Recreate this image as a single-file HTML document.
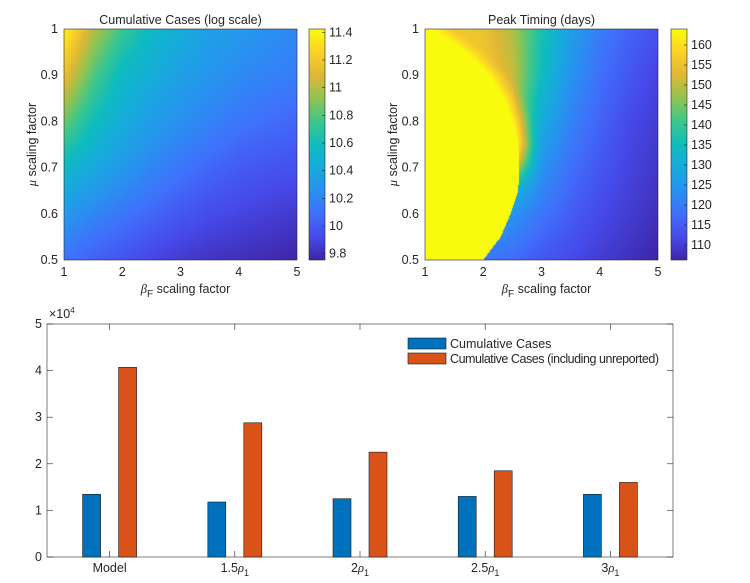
<!DOCTYPE html>
<html><head><meta charset="utf-8"><style>
body{margin:0;background:#fff;width:750px;height:583px;overflow:hidden;position:relative;font-family:"Liberation Sans",sans-serif}
canvas{position:absolute}
svg{position:absolute;left:0;top:0}
text{font-family:"Liberation Sans",sans-serif;fill:#262626;font-size:12.5px}
</style></head><body>
<canvas id="hm1" width="233" height="231" style="left:64px;top:29px"></canvas>
<canvas id="cb1" width="16" height="231" style="left:309px;top:29px"></canvas>
<canvas id="hm2" width="233" height="231" style="left:425px;top:29px"></canvas>
<canvas id="cb2" width="16" height="231" style="left:671px;top:29px"></canvas>
<svg id="svg" width="750" height="583"></svg>
<script>
// ---- heatmap data ----
const betaGrid=[1,1.5,2,2.5,3,3.5,4,4.5,5];
const muGrid=[1.0,0.9,0.8,0.7,0.6,0.5];
const cumRows=[
[11.4,11.0,10.75,10.55,10.45,10.35,10.3,10.25,10.2],
[11.15,10.8,10.55,10.45,10.35,10.28,10.22,10.18,10.15],
[10.85,10.6,10.45,10.33,10.25,10.18,10.12,10.08,10.05],
[10.55,10.42,10.3,10.2,10.12,10.05,10.0,9.97,9.95],
[10.3,10.2,10.12,10.05,9.98,9.93,9.9,9.87,9.85],
[10.1,10.02,9.96,9.9,9.85,9.82,9.8,9.78,9.75]];
const peakRows=[
[158,156,155,149,137,127,120,116,113],
[158,157,156,151,135,124,118,114,111],
[158,157,156,150,130,121,116,112,110],
[156,156,154,140,124,118,114,111,109],
[130,130,128,124,119,115,112,110,108],
[120,120,119,117,114,112,110,108,106]];
const boundMu=[0.5,0.55,0.6,0.65,0.7,0.75,0.8,0.85,0.9,0.95,1.0];
const boundBeta=[2.0,2.3,2.47,2.6,2.62,2.6,2.5,2.35,2.1,1.7,1.15];
const cumRange=[9.754,11.424], cumTicks=[9.8,10,10.2,10.4,10.6,10.8,11,11.2,11.4];
const peakRange=[106.25,164], peakTicks=[110,115,120,125,130,135,140,145,150,155,160];
// ---- bar data ----
const categories=["Model","1.5ρ1","2ρ1","2.5ρ1","3ρ1"];
const reported=[13450,11800,12500,13000,13450];
const unreported=[40700,28800,22500,18500,16000];
const barYTicks=[0,1,2,3,4,5];

const P=[[0,62,38,168],[0.1,71,74,234],[0.2,64,112,252],[0.3,40,146,240],[0.4,23,170,222],[0.5,14,188,190],[0.6,60,199,140],[0.7,146,195,82],[0.8,223,184,52],[0.9,251,210,40],[1,249,251,14]];
function parula(t){t=Math.max(0,Math.min(1,t));for(let i=1;i<P.length;i++){if(t<=P[i][0]){const a=P[i-1],b=P[i],f=(t-a[0])/(b[0]-a[0]);return [a[1]+f*(b[1]-a[1]),a[2]+f*(b[2]-a[2]),a[3]+f*(b[3]-a[3])];}}return [249,251,14];}
function interp(rows,beta,mu){
 let ci=Math.min(betaGrid.length-2,Math.floor((beta-1)/0.5)); let fx=(beta-betaGrid[ci])/0.5;
 let ri=Math.min(muGrid.length-2,Math.floor((1-mu)/0.1)); let fy=(muGrid[ri]-mu)/0.1;
 const a=rows[ri][ci],b=rows[ri][ci+1],c=rows[ri+1][ci],d=rows[ri+1][ci+1];
 return (a*(1-fx)+b*fx)*(1-fy)+(c*(1-fx)+d*fx)*fy;}
function lin(xs,ys,x){if(x<=xs[0])return ys[0];for(let i=1;i<xs.length;i++)if(x<=xs[i]){const f=(x-xs[i-1])/(xs[i]-xs[i-1]);return ys[i-1]+f*(ys[i]-ys[i-1]);}return ys[ys.length-1];}
function drawHM(id,fn,range){const c=document.getElementById(id),ctx=c.getContext('2d'),W=c.width,H=c.height,img=ctx.createImageData(W,H);
 for(let y=0;y<H;y++)for(let x=0;x<W;x++){const beta=1+4*(x+0.5)/W,mu=1-0.5*(y+0.5)/H;const v=fn(beta,mu);const col=parula((v-range[0])/(range[1]-range[0]));const k=(y*W+x)*4;img.data[k]=col[0];img.data[k+1]=col[1];img.data[k+2]=col[2];img.data[k+3]=255;}
 ctx.putImageData(img,0,0);}
function drawCB(id){const c=document.getElementById(id),ctx=c.getContext('2d');for(let y=0;y<c.height;y++){const col=parula(1-(y+0.5)/c.height);ctx.fillStyle=`rgb(${col.map(Math.round).join(',')})`;ctx.fillRect(0,y,c.width,1);}}
drawHM('hm1',(b,m)=>interp(cumRows,b,m),cumRange);
drawHM('hm2',(b,m)=>{const bd=lin(boundMu,boundBeta,m);if(b<bd)return 164;const v=interp(peakRows,b,m);
 let w=Math.max(0,Math.min(1,(m-0.64)/0.14));w=w*w*(3-2*w);
 const d=b-bd,blend=Math.max(0,1-d/0.45);return v+(164-v)*blend*blend*w;},peakRange);
drawCB('cb1');drawCB('cb2');

const NS='http://www.w3.org/2000/svg',svg=document.getElementById('svg');
function el(tag,attrs,txt){const e=document.createElementNS(NS,tag);for(const k in attrs)e.setAttribute(k,attrs[k]);if(txt!==undefined)e.textContent=txt;svg.appendChild(e);return e;}
function heatAxes(x0,cbx,title,name,cbTicks,cbRange){
 const x1=x0+233,y0=29,y1=260,ax=b=>x0+(b-1)/4*233,ay=m=>y1-(m-0.5)/0.5*231;
 let e=el('rect',{x:x0,y:y0,width:233,height:231,fill:'none',stroke:'#262626','stroke-width':0.6});
 
 [1,2,3,4,5].forEach(b=>{e=el('text',{x:ax(b),y:y1+16,'text-anchor':'middle'},String(b));});
 [0.5,0.6,0.7,0.8,0.9,1].forEach(m=>{e=el('text',{x:x0-6,y:ay(m)+4,'text-anchor':'end'},String(m));});
 e=el('text',{x:(x0+x1)/2,y:24,'text-anchor':'middle','font-size':'13'},title);
 e=el('text',{x:(x0+x1)/2+5,y:293,'text-anchor':'middle','font-size':'13.5'});
 e.innerHTML='<tspan font-family="Liberation Serif" font-style="italic">β</tspan><tspan font-size="10" dy="4">F</tspan><tspan dy="-4"> scaling factor</tspan>';
 e=el('text',{x:0,y:0,'text-anchor':'middle','font-size':'13.5',transform:`translate(${x0-28},${(y0+y1)/2}) rotate(-90)`});
 e.innerHTML='<tspan font-family="Liberation Serif" font-style="italic">μ</tspan> scaling factor';
 el('rect',{x:cbx,y:y0,width:16,height:231,fill:'none',stroke:'#262626','stroke-width':0.6});
 cbTicks.forEach(t=>{const y=y1-(t-cbRange[0])/(cbRange[1]-cbRange[0])*231;el('line',{x1:cbx+16,x2:cbx+13,y1:y,y2:y,stroke:'#262626','stroke-width':0.6});
  e=el('text',{x:cbx+20,y:y+4,'font-size':'12'},String(t));});
}
heatAxes(64,309,'Cumulative Cases (log scale)','cumulative-cases',cumTicks,cumRange);
heatAxes(425,671,'Peak Timing (days)','peak-timing',peakTicks,peakRange);

// bar chart
const bx0=47,bx1=673,by0=324,by1=557;
const bxs=i=>bx0+(i+0.5)/5*(bx1-bx0);
const bys=v=>by1-v/50000*(by1-by0);
let e=el('rect',{x:bx0,y:by0,width:bx1-bx0,height:by1-by0,fill:'#fff',stroke:'#262626','stroke-width':0.6});

barYTicks.forEach(t=>{const y=bys(t*10000);el('line',{x1:bx0,x2:bx0+6,y1:y,y2:y,stroke:'#262626','stroke-width':0.6});el('line',{x1:bx1,x2:bx1-6,y1:y,y2:y,stroke:'#262626','stroke-width':0.6});
 e=el('text',{x:bx0-5,y:y+4,'text-anchor':'end'},String(t));});
e=el('text',{x:bx0+2,y:318,'font-size':'11'});
e.innerHTML='×10<tspan font-size="8" dy="-5">4</tspan>';
const bw=18,off=18;
categories.forEach((c,i)=>{const cx=bxs(i);
 el('line',{x1:cx,x2:cx,y1:by1,y2:by1-6,stroke:'#262626','stroke-width':0.6});el('line',{x1:cx,x2:cx,y1:by0,y2:by0+6,stroke:'#262626','stroke-width':0.6});
 let r=el('rect',{x:cx-off-bw/2,y:bys(reported[i]),width:bw,height:by1-bys(reported[i]),fill:'#0072bd',stroke:'#1a1a1a','stroke-width':0.6});
 
 r=el('rect',{x:cx+off-bw/2,y:bys(unreported[i]),width:bw,height:by1-bys(unreported[i]),fill:'#d95319',stroke:'#1a1a1a','stroke-width':0.6});
 
 const t=el('text',{x:cx,y:572,'text-anchor':'middle'});
 const m=c.match(/^([\d.]*)ρ1$/);
 if(m)t.innerHTML=m[1]+'<tspan font-family="Liberation Serif" font-style="italic">ρ</tspan><tspan font-size="9" dy="4">1</tspan>';else t.textContent=c;
});
e=el('rect',{x:408,y:338,width:38,height:11,fill:'#0072bd',stroke:'#1a1a1a','stroke-width':0.6});
e=el('text',{x:450,y:348,'font-size':'11.5'},'Cumulative Cases');
e=el('rect',{x:408,y:353,width:38,height:11,fill:'#d95319',stroke:'#1a1a1a','stroke-width':0.6});
e=el('text',{x:450,y:363,'font-size':'11.5','textLength':209},'Cumulative Cases (including unreported)');
</script>
</body></html>
